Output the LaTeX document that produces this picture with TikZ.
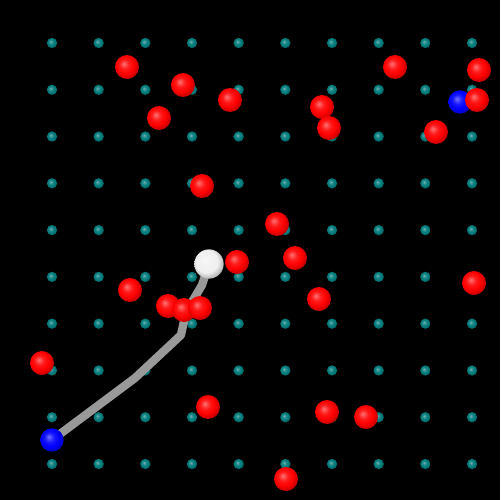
\documentclass[tikz,border=0pt]{standalone}
\usepackage{tikz}
\usetikzlibrary{positioning}

% soft ball look: mostly flat colour, light spot upper left, dark rim
\makeatletter
\pgfdeclareradialshading[tikz@ball]{softball}{\pgfqpoint{-7bp}{7bp}}{%
  color(0bp)=(tikz@ball!55!white); color(10bp)=(tikz@ball!90!white);
  color(19bp)=(tikz@ball); color(28bp)=(tikz@ball!75!black);
  color(50bp)=(tikz@ball!50!black)}
\makeatother

\definecolor{dotteal}{RGB}{0,122,122}

\tikzset{
  gridpt/.style={circle, inner sep=0pt, minimum size=0.31cm, ball color=dotteal, shading=softball},
  redball/.style={circle, inner sep=0pt, minimum size=0.72cm, ball color=red, shading=softball},
  blueball/.style={circle, inner sep=0pt, minimum size=0.70cm, ball color=blue, shading=softball},
  whiteball/.style={circle, inner sep=0pt, minimum size=0.88cm, ball color=white!94!black, shading=softball},
  trail/.style={line width=0.25cm, draw=gray!80, line join=round}
}

\begin{document}
\begin{tikzpicture}[x=0.03cm, y=-0.03cm]
    % Background
    \fill[black] (0,0) rectangle (500,500);
    \useasboundingbox (0,0) rectangle (500,500);

    % Grid points
    \foreach \i in {0,...,9}
      \foreach \j in {0,...,9}
        \node[gridpt] (g\i\j) at ({52+46.67*\i}, {43+46.78*\j}) {};

    % Trail
    \coordinate (start) at (52, 440);
    \coordinate (t1) at (135, 378);
    \coordinate (t2) at (181, 335);
    \coordinate (t3) at (184, 321);
    \coordinate (t4) at (192, 302);
    \coordinate (t5) at (202, 285);
    \coordinate (goal) at (209, 264);
    \draw[trail] (start) -- (t1) -- (t2) -- (t3) -- (t4) -- (t5) -- (goal);

    % Blue balls
    \node[blueball] (b1) at (start) {};
    \node[blueball] (b2) at (460, 102) {};

    % Red balls
    \foreach \x/\y [count=\k] in {127/67, 183/85, 230/100, 159/118, 395/67, 479/70,
        477/100, 322/107, 329/128, 436/132, 202/186, 277/224, 237/262, 295/258,
        130/290, 168/306, 184/310, 200/308, 319/299, 474/283, 42/363, 208/407,
        327/412, 366/417, 286/479}
      \node[redball] (r\k) at (\x, \y) {};

    % White ball
    \node[whiteball] (w) at (goal) {};
\end{tikzpicture}
\end{document}
